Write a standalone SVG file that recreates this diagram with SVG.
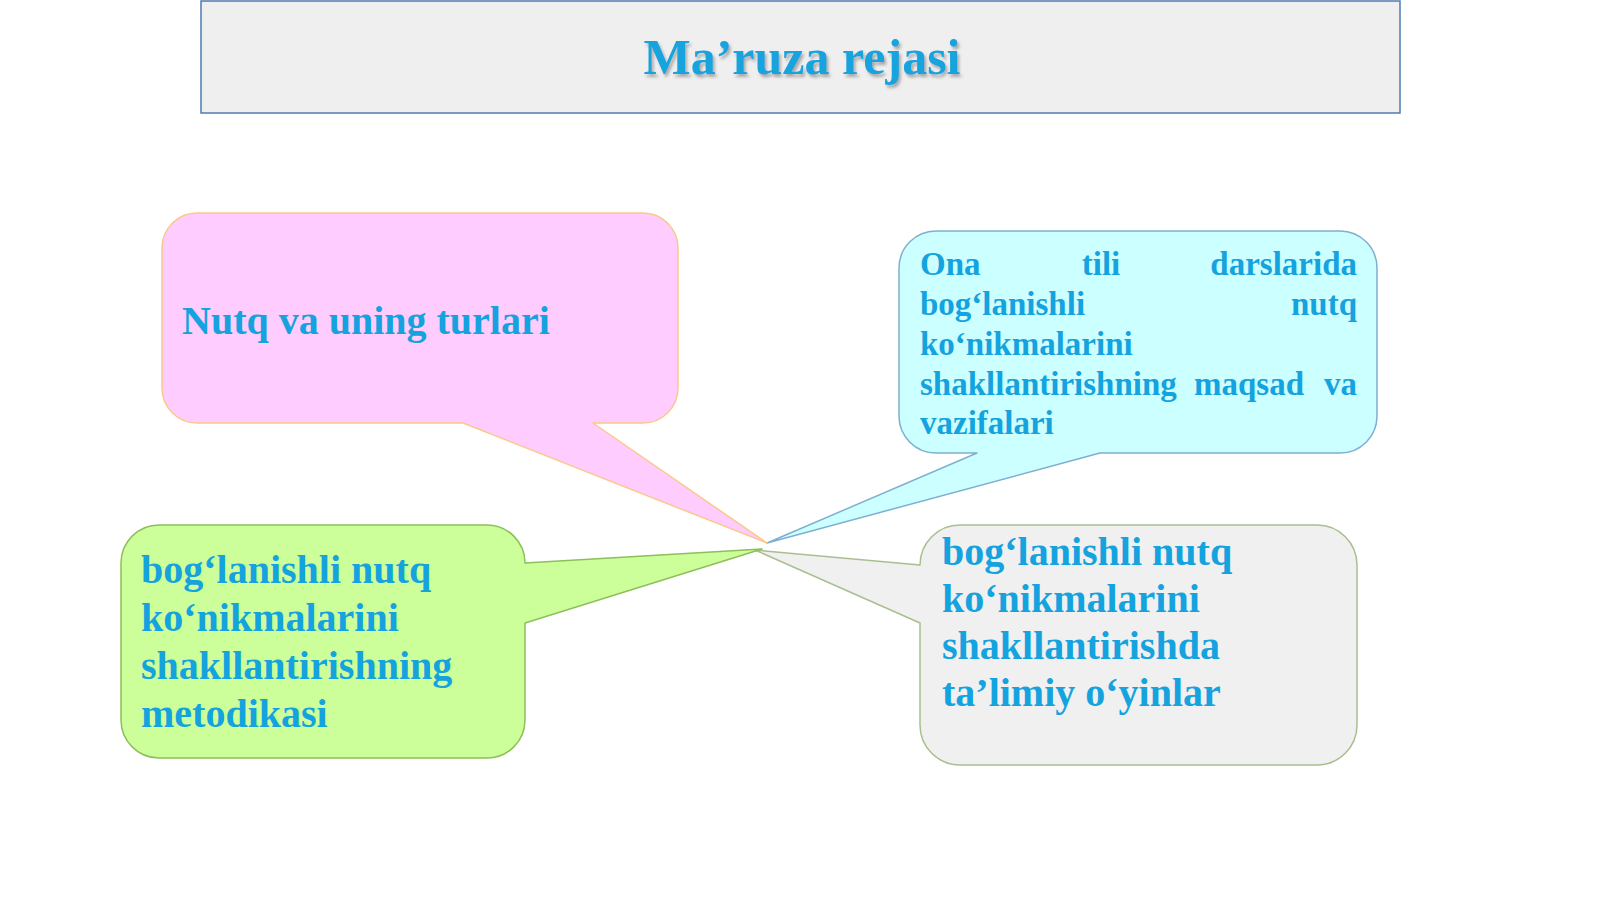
<svg xmlns="http://www.w3.org/2000/svg" width="1600" height="900" viewBox="0 0 1600 900">
  <style>
    .t { font-family: "Liberation Serif", "Times New Roman", serif; font-weight: bold; fill: #14A3DE; }
    .t40 { font-size: 40px; }
    .t33 { font-size: 33px; }
    .bubble { stroke-width: 1.5; stroke-linejoin: round; }
  </style>
  <defs>
    <filter id="shadow" x="-10%" y="-30%" width="120%" height="160%">
      <feDropShadow dx="2" dy="3" stdDeviation="1.5" flood-color="#7a7a7a" flood-opacity="0.6"/>
    </filter>
  </defs>
  <rect width="1600" height="900" fill="#ffffff"/>

  <g id="title">
    <rect x="201" y="1" width="1199" height="112" fill="#EFEFEF" stroke="#4F7BB0" stroke-width="1.5"/>
    <text class="t" x="802" y="74" font-size="50" text-anchor="middle" filter="url(#shadow)">Ma’ruza rejasi</text>
  </g>

  <g id="connectors"></g>

  <g id="node-gray">
    <path class="bubble" fill="#F0F0F0" stroke="#A9BF8F" d="M 960,525 H 1317 A 40 40 0 0 1 1357,565 V 725 A 40 40 0 0 1 1317,765 H 960 A 40 40 0 0 1 920,725 V 623 L 755,550 L 920,565 A 40 40 0 0 1 960,525 Z"/>
    <text class="t t40" x="942" y="565">bog‘lanishli nutq</text>
    <text class="t t40" x="942" y="612">ko‘nikmalarini</text>
    <text class="t t40" x="942" y="659">shakllantirishda</text>
    <text class="t t40" x="942" y="706">ta’limiy o‘yinlar</text>
  </g>

  <g id="node-green">
    <path class="bubble" fill="#CCFF99" stroke="#8DBF5A" d="M 159,525 H 487 A 38 38 0 0 1 525,563 L 762,549 L 525,623 V 720 A 38 38 0 0 1 487,758 H 159 A 38 38 0 0 1 121,720 V 563 A 38 38 0 0 1 159,525 Z"/>
    <text class="t t40" x="141" y="583">bog‘lanishli nutq</text>
    <text class="t t40" x="141" y="631">ko‘nikmalarini</text>
    <text class="t t40" x="141" y="679">shakllantirishning</text>
    <text class="t t40" x="141" y="727">metodikasi</text>
  </g>

  <g id="node-cyan">
    <path class="bubble" fill="#CCFFFF" stroke="#7FAFD0" d="M 936,231 H 1340 A 37 37 0 0 1 1377,268 V 416 A 37 37 0 0 1 1340,453 H 1100 L 767,543 L 977,453 H 936 A 37 37 0 0 1 899,416 V 268 A 37 37 0 0 1 936,231 Z"/>
    <text class="t t33" x="920" y="275">Ona</text>
    <text class="t t33" x="1101" y="275" text-anchor="middle">tili</text>
    <text class="t t33" x="1357" y="275" text-anchor="end">darslarida</text>
    <text class="t t33" x="920" y="315">bog‘lanishli</text>
    <text class="t t33" x="1357" y="315" text-anchor="end">nutq</text>
    <text class="t t33" x="920" y="355">ko‘nikmalarini</text>
    <text class="t t33" x="920" y="395">shakllantirishning</text>
    <text class="t t33" x="1249" y="395" text-anchor="middle">maqsad</text>
    <text class="t t33" x="1357" y="395" text-anchor="end">va</text>
    <text class="t t33" x="920" y="434">vazifalari</text>
  </g>

  <g id="node-pink">
    <path class="bubble" fill="#FFCCFF" stroke="#F9C98A" d="M 197,213 H 643 A 35 35 0 0 1 678,248 V 388 A 35 35 0 0 1 643,423 H 593 L 767,543 L 463,423 H 197 A 35 35 0 0 1 162,388 V 248 A 35 35 0 0 1 197,213 Z"/>
    <text class="t t40" x="182" y="334">Nutq va uning turlari</text>
  </g>
</svg>
